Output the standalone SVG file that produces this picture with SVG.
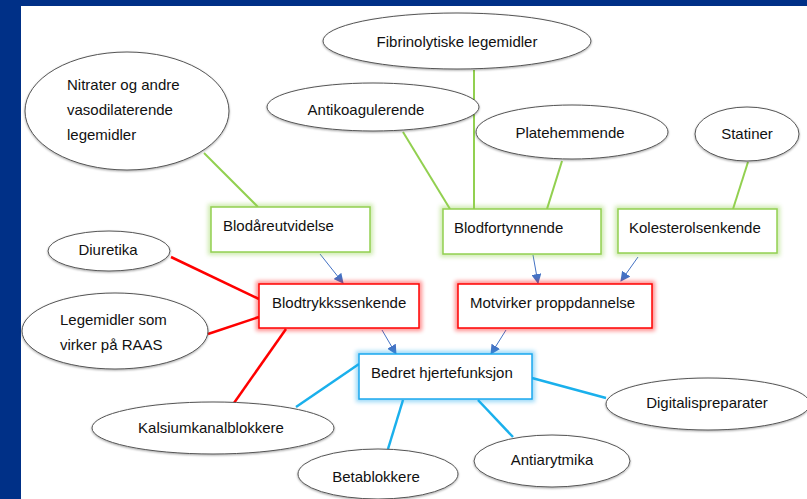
<svg xmlns="http://www.w3.org/2000/svg" width="807" height="499" viewBox="0 0 807 499">
<defs>
<style>
text{font-family:"Liberation Sans",Arial,sans-serif;font-size:15px;fill:#111}
.c{text-anchor:middle}
.ell{fill:#fff;stroke:#555;stroke-width:1}
.box{fill:#fff;stroke-width:1.5}
.gbox{stroke:#92D050}
.rbox{stroke:#FF0000}
.bbox{stroke:#1AA8EE}
.glow{fill:none;stroke-width:6;opacity:.45}
.g{stroke:#92D050;stroke-width:2;fill:none}
.r{stroke:#FF0000;stroke-width:2.5;fill:none}
.cy{stroke:#1AB0EC;stroke-width:2.5;fill:none}
.a{stroke:#4472C4;stroke-width:1;fill:none;marker-end:url(#arr)}
</style>
<filter id="blur" x="-20%" y="-50%" width="140%" height="200%"><feGaussianBlur stdDeviation="2"/></filter>
<filter id="sh" x="-10%" y="-10%" width="120%" height="130%"><feDropShadow dx="0" dy="1" stdDeviation="0.8" flood-color="#000" flood-opacity="0.35"/></filter>
<marker id="arr" viewBox="0 0 10 10" refX="9" refY="5" markerWidth="10" markerHeight="10" markerUnits="userSpaceOnUse" orient="auto"><path d="M0,0 L10,5 L0,10 z" fill="#4472C4"/></marker>
</defs>
<rect x="0" y="0" width="807" height="499" fill="#003087"/>
<rect x="21" y="6" width="786" height="493" fill="#fff"/>

<g id="connectors">
<line class="g" x1="204" y1="153" x2="258" y2="207"/>
<line class="g" x1="403" y1="132" x2="450" y2="209"/>
<line class="g" x1="474" y1="70" x2="474" y2="209"/>
<line class="g" x1="562" y1="161" x2="547" y2="209"/>
<line class="g" x1="748" y1="162" x2="733" y2="209"/>
<line class="a" x1="320" y1="254" x2="343" y2="283"/>
<line class="a" x1="533" y1="255" x2="538" y2="283"/>
<line class="a" x1="638" y1="257" x2="621" y2="281"/>
<line class="a" x1="382" y1="330" x2="396" y2="354"/>
<line class="a" x1="506" y1="330" x2="491" y2="354"/>
<line class="r" x1="171" y1="257" x2="259" y2="299"/>
<line class="r" x1="208" y1="334" x2="259" y2="317"/>
<line class="r" x1="286" y1="329" x2="234" y2="403"/>
<line class="cy" x1="359" y1="364" x2="296" y2="407"/>
<line class="cy" x1="403" y1="400" x2="388" y2="449"/>
<line class="cy" x1="478" y1="400" x2="513" y2="437"/>
<line class="cy" x1="532" y1="378" x2="606" y2="398"/>
</g>

<g id="nitrater"><ellipse class="ell" filter="url(#sh)" cx="127" cy="111" rx="102" ry="59"/>
<text x="67" y="90">Nitrater og andre</text><text x="67" y="115">vasodilaterende</text><text x="67" y="140">legemidler</text></g>
<g id="fibrinolytiske"><ellipse class="ell" filter="url(#sh)" cx="457" cy="41" rx="134" ry="28"/><text class="c" x="457" y="47">Fibrinolytiske legemidler</text></g>
<g id="antikoagulerende"><ellipse class="ell" filter="url(#sh)" cx="373" cy="107" rx="106" ry="24"/><text class="c" x="366" y="115">Antikoagulerende</text></g>
<g id="platehemmende"><ellipse class="ell" filter="url(#sh)" cx="572" cy="132" rx="96" ry="27"/><text class="c" x="570" y="138">Platehemmende</text></g>
<g id="statiner"><ellipse class="ell" filter="url(#sh)" cx="747" cy="134" rx="52" ry="27"/><text class="c" x="747" y="139">Statiner</text></g>
<g id="diuretika"><ellipse class="ell" filter="url(#sh)" cx="109" cy="251" rx="61" ry="20"/><text class="c" x="108" y="255">Diuretika</text></g>
<g id="raas"><ellipse class="ell" filter="url(#sh)" cx="115" cy="331" rx="93" ry="38"/>
<text x="60" y="325">Legemidler som</text><text x="60" y="350">virker på RAAS</text></g>
<g id="kalsium"><ellipse class="ell" filter="url(#sh)" cx="213" cy="428" rx="121" ry="26"/><text class="c" x="211" y="433">Kalsiumkanalblokkere</text></g>
<g id="betablokkere"><ellipse class="ell" filter="url(#sh)" cx="378" cy="474" rx="80" ry="25"/><text class="c" x="376" y="482">Betablokkere</text></g>
<g id="antiarytmika"><ellipse class="ell" filter="url(#sh)" cx="552" cy="461" rx="78" ry="26"/><text class="c" x="552" y="465">Antiarytmika</text></g>
<g id="digitalis"><ellipse class="ell" filter="url(#sh)" cx="708" cy="404" rx="102" ry="26"/><text class="c" x="707" y="408">Digitalispreparater</text></g>

<g id="blodareutvidelse"><rect class="glow gbox" filter="url(#blur)" x="211" y="207" width="159" height="45"/><rect class="box gbox" x="211" y="207" width="159" height="45"/><text x="223" y="231">Blodåreutvidelse</text></g>
<g id="blodfortynnende"><rect class="glow gbox" filter="url(#blur)" x="443" y="209" width="158" height="45"/><rect class="box gbox" x="443" y="209" width="158" height="45"/><text x="454" y="233">Blodfortynnende</text></g>
<g id="kolesterolsenkende"><rect class="glow gbox" filter="url(#blur)" x="618" y="209" width="159" height="44"/><rect class="box gbox" x="618" y="209" width="159" height="44"/><text x="629" y="233">Kolesterolsenkende</text></g>
<g id="blodtrykkssenkende"><rect class="glow rbox" filter="url(#blur)" x="259" y="284" width="160" height="44"/><rect class="box rbox" x="259" y="284" width="160" height="44"/><text x="272" y="308">Blodtrykkssenkende</text></g>
<g id="motvirker"><rect class="glow rbox" filter="url(#blur)" x="458" y="284" width="194" height="44"/><rect class="box rbox" x="458" y="284" width="194" height="44"/><text x="470" y="308">Motvirker proppdannelse</text></g>
<g id="bedret"><rect class="glow bbox" filter="url(#blur)" x="359" y="354" width="173" height="45"/><rect class="box bbox" x="359" y="354" width="173" height="45"/><text x="371" y="378">Bedret hjertefunksjon</text></g>
</svg>
